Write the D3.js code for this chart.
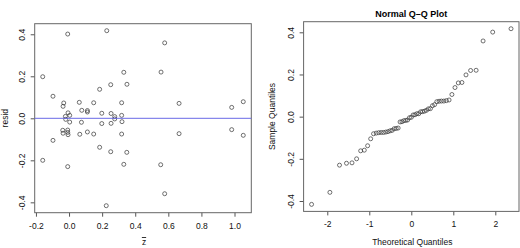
<!DOCTYPE html>
<html>
<head>
<meta charset="utf-8">
<script src="https://cdn.jsdelivr.net/npm/d3@7"></script>
<style>
  body { margin: 0; background: #fff; }
  svg { display: block; font-family: "Liberation Sans", Arial, Helvetica, sans-serif; }
</style>
</head>
<body>
<svg id="chart" width="520" height="248"></svg>
<script>
// residuals vs z-bar (left panel)
const zbar = [
  -0.008, 0.228, -0.159, 0.331, 0.252, 0.350, 0.185, -0.097, -0.032, -0.036,
  0.062, 0.149, 0.318, 0.077, 0.111, 0.111, -0.006, 0.004, -0.022, 0.198,
  0.254, 0.276, 0.318, 0.556, 0.578, 0.665, 0.983, 1.053,
  0.276, -0.020, 0.004, 0.075, 0.198, 0.254, 0.320,
  -0.038, -0.036, -0.008, -0.008, -0.006, 0.065, 0.111, 0.149, 0.318, -0.097,
  0.185, 0.252, 0.349, -0.159, 0.331, -0.008, 0.665, 0.983, 1.053, 0.554,
  0.578, 0.225
];
const resid = [
  0.401, 0.417, 0.198, 0.219, 0.160, 0.162, 0.138, 0.105, 0.073, 0.057,
  0.076, 0.074, 0.074, 0.038, 0.037, 0.030, 0.026, 0.014, 0.009, 0.024,
  0.023, 0.008, 0.014, 0.220, 0.359, 0.071, 0.052, 0.079,
  -0.003, -0.005, -0.018, -0.019, -0.025, -0.024, -0.016,
  -0.057, -0.071, -0.056, -0.067, -0.078, -0.076, -0.065, -0.075, -0.075, -0.105,
  -0.138, -0.159, -0.162, -0.200, -0.219, -0.230, -0.073, -0.054, -0.081, -0.221,
  -0.359, -0.416
];

// normal Q-Q plot: theoretical quantiles against sorted residuals
const theoQuant = [
  -2.374, -1.938, -1.709, -1.543, -1.412, -1.302, -1.205, -1.119, -1.040, -0.967,
  -0.899, -0.835, -0.775, -0.717, -0.661, -0.607, -0.555, -0.504, -0.455, -0.407,
  -0.359, -0.313, -0.267, -0.222, -0.177, -0.132, -0.088, -0.044, 0,
  0.044, 0.088, 0.132, 0.177, 0.222, 0.267, 0.313, 0.359, 0.407, 0.455,
  0.504, 0.555, 0.607, 0.661, 0.717, 0.775, 0.835, 0.899, 0.967, 1.040,
  1.119, 1.205, 1.302, 1.412, 1.543, 1.709, 1.938, 2.374
];
const sampleQuant = d3.sort(resid);

const leftXTicks = [-0.2, 0.0, 0.2, 0.4, 0.6, 0.8, 1.0];
const yTicks = [-0.4, -0.2, 0.0, 0.2, 0.4];
const qqXTicks = [-2, -1, 0, 1, 2];

const svg = d3.select('#chart');
const fmt1 = d => d3.format('.1f')(d).replace('−', '-');
const fmt0 = d => d3.format('d')(d).replace('−', '-');
const FS = 8.5;

// R-style 4% padding on each side
const pad = ext => {
  const r = ext[1] - ext[0];
  return [ext[0] - 0.04 * r, ext[1] + 0.04 * r];
};

function panel({ x, y, xs, ys, xTicks, xFmt, xLabel, xOverline, yLabel, title, labelX }) {
  const [x0, x1] = x.range();
  const [y0, y1] = y.range();
  const g = svg.append('g');

  g.append('g')
    .attr('transform', `translate(0,${y0})`)
    .call(d3.axisBottom(x).tickValues(xTicks).tickFormat(xFmt).tickSize(4).tickSizeOuter(0).tickPadding(6))
    .call(a => a.select('.domain').remove())
    .call(a => a.selectAll('line').attr('stroke', '#555'))
    .call(a => a.selectAll('text').attr('font-size', FS).attr('fill', '#111').attr('font-family', null));

  g.append('g')
    .attr('transform', `translate(${x0},0)`)
    .call(d3.axisLeft(y).tickValues(yTicks).tickFormat(fmt1).tickSize(4).tickSizeOuter(0))
    .call(a => a.select('.domain').remove())
    .call(a => a.selectAll('line').attr('stroke', '#555'))
    .call(a => a.selectAll('text')
      .attr('font-size', FS).attr('fill', '#111').attr('font-family', null)
      .attr('x', null).attr('dy', null)
      .attr('y', -9.3)
      .attr('text-anchor', 'middle')
      .attr('transform', 'rotate(-90)'));

  g.append('rect')
    .attr('x', x0).attr('y', y1)
    .attr('width', x1 - x0).attr('height', y0 - y1)
    .attr('fill', 'none').attr('stroke', '#666').attr('stroke-width', 1);

  g.append('g').selectAll('circle')
    .data(d3.range(xs.length))
    .join('circle')
    .attr('cx', i => x(xs[i]))
    .attr('cy', i => y(ys[i]))
    .attr('r', 2)
    .attr('fill', 'none')
    .attr('stroke', '#333')
    .attr('stroke-width', 0.7);

  g.append('text')
    .attr('x', (x0 + x1) / 2 + 1).attr('y', 245)
    .attr('text-anchor', 'middle')
    .attr('font-size', FS).attr('fill', '#111')
    .style('text-decoration', xOverline ? 'overline' : null)
    .text(xLabel);

  g.append('text')
    .attr('transform', `translate(${labelX},${(y0 + y1) / 2}) rotate(-90)`)
    .attr('text-anchor', 'middle')
    .attr('dominant-baseline', 'central')
    .attr('font-size', FS).attr('fill', '#111')
    .text(yLabel);

  if (title) {
    g.append('text')
      .attr('x', (x0 + x1) / 2).attr('y', 17)
      .attr('text-anchor', 'middle')
      .attr('font-size', 9).attr('font-weight', 'bold').attr('fill', '#000')
      .text(title);
  }
  return g;
}

const xL = d3.scaleLinear().domain(pad(d3.extent(zbar))).range([34.7, 251.3]);
const yL = d3.scaleLinear().domain(pad(d3.extent(resid))).range([212.7, 23.7]);
const left = panel({
  x: xL, y: yL, xs: zbar, ys: resid, xTicks: leftXTicks, xFmt: fmt1,
  xLabel: 'z', xOverline: true, yLabel: 'resid', labelX: 5
});
// horizontal reference line at zero
left.append('line')
  .attr('x1', xL.range()[0]).attr('x2', xL.range()[1])
  .attr('y1', yL(0)).attr('y2', yL(0))
  .attr('stroke', '#6a6ae6').attr('stroke-width', 1);

const xR = d3.scaleLinear().domain(pad(d3.extent(theoQuant))).range([303.6, 519]);
const yR = d3.scaleLinear().domain(pad(d3.extent(sampleQuant))).range([211.4, 21.7]);
panel({
  x: xR, y: yR, xs: theoQuant, ys: sampleQuant, xTicks: qqXTicks, xFmt: fmt0,
  xLabel: 'Theoretical Quantiles', yLabel: 'Sample Quantiles', labelX: 272,
  title: 'Normal Q\u2013Q Plot'
});
</script>
</body>
</html>
